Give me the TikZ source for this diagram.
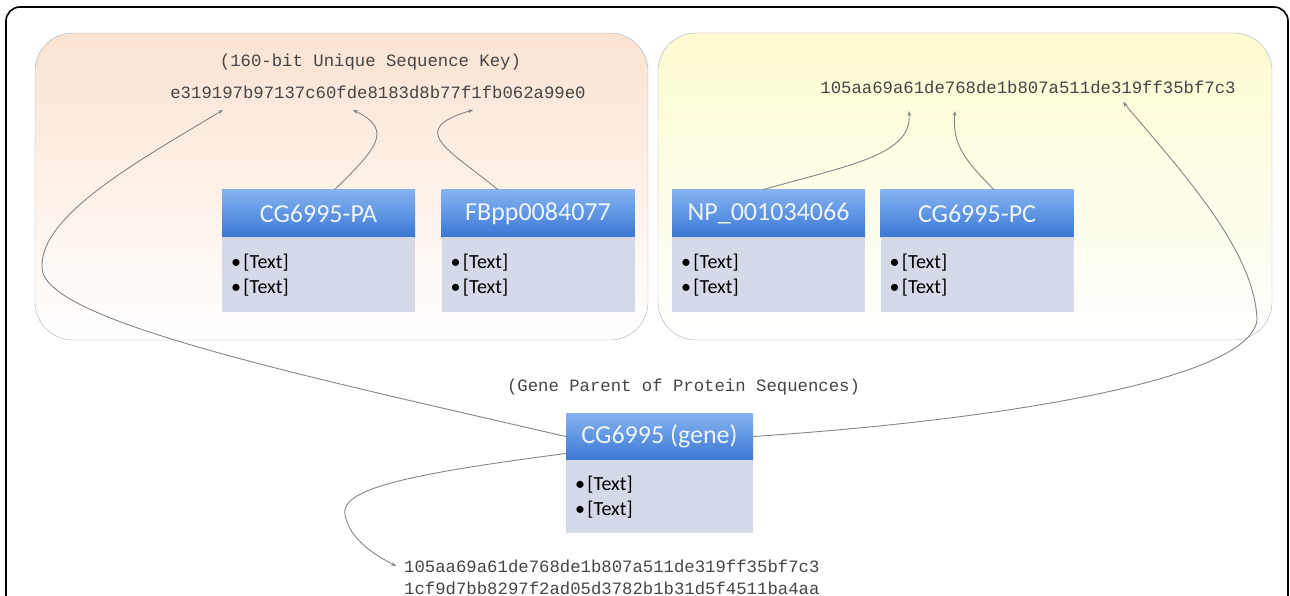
\documentclass[tikz,border=0pt]{standalone}
\usepackage{fontspec}
\setmonofont{Liberation Mono}
\newfontfamily\carlito{Carlito}
\usetikzlibrary{positioning,arrows.meta,calc}
\definecolor{hdtop}{HTML}{84B3F0}
\definecolor{hdbot}{HTML}{3B77D6}
\definecolor{hdtxt}{HTML}{EEF4FC}
\definecolor{bdcol}{HTML}{D4DAE7}
\definecolor{pnlline}{HTML}{A7B1BF}
\definecolor{peach}{HTML}{FBE3D1}
\definecolor{lemon}{HTML}{FDFBD0}
\definecolor{keytxt}{HTML}{454545}
\definecolor{conncol}{HTML}{858585}
\newcommand{\bul}{•\kern2.5pt}
\tikzset{hd/.style={minimum width=193pt, minimum height=47pt, inner sep=0pt,
    top color=hdtop, bottom color=hdbot, text=hdtxt,
    font=\carlito\fontsize{26}{26}\selectfont}}
\tikzset{bd/.style={minimum height=75pt, text width=175pt, inner xsep=9pt, inner ysep=0pt,
    align=left, fill=bdcol, font=\carlito\fontsize{20}{25}\selectfont}}
\tikzset{key/.style={inner sep=0pt, text=keytxt, font=\ttfamily\fontsize{17.3}{20}\selectfont}}
\tikzset{conn/.style={draw=conncol, line width=0.9pt, -{Stealth[length=5pt,width=4pt]}}}

\begin{document}
\begin{tikzpicture}[x=1pt,y=-1pt]
  \useasboundingbox (0,0) rectangle (1290,596);
  % frame and the two panels
  \draw[line width=1.6pt, rounded corners=14pt] (6,7) rectangle (1288,660);
  \draw[draw=pnlline, rounded corners=38pt, top color=peach, bottom color=white] (35,33) rectangle (648,340);
  \draw[draw=pnlline, rounded corners=38pt, top color=lemon, bottom color=white] (658,33) rectangle (1272,340);

  % sequence keys
  \node[key] (keyLabel) at (370.5,62) {(160-bit Unique Sequence Key)};
  \node[key] (keyL) at (378,92) {e319197b97137c60fde8183d8b77f1fb062a99e0};
  \node[key] (keyR) at (1028,87) {105aa69a61de768de1b807a511de319ff35bf7c3};
  \node[key] (geneLabel) at (683.5,387) {(Gene Parent of Protein Sequences)};
  \node[key, anchor=west] (keyG1) at (404,566) {105aa69a61de768de1b807a511de319ff35bf7c3};
  \node[key, anchor=west] (keyG2) at (404,588) {1cf9d7bb8297f2ad05d3782b1b31d5f4511ba4aa};

  % protein boxes
  \node[hd] (hPA) at (318.5,213.5) {CG6995-PA};
  \node[bd, below=0pt of hPA] (bPA) {\bul[Text]\\\bul[Text]};
  \node[hd] (hFB) at (538,213.5) {FBpp0084077};
  \node[bd, below=0pt of hFB] (bFB) {\bul[Text]\\\bul[Text]};
  \node[hd] (hNP) at (768.5,213.5) {NP\_001034066};
  \node[bd, below=0pt of hNP] (bNP) {\bul[Text]\\\bul[Text]};
  \node[hd] (hPC) at (977,213.5) {CG6995-PC};
  \node[bd, below=0pt of hPC] (bPC) {\bul[Text]\\\bul[Text]};

  % gene box
  \node[hd, minimum width=187pt] (hG) at (659.5,436.5) {CG6995 (gene)};
  \node[bd, below=0pt of hG, text width=169pt, minimum height=73pt] (bG) {\bul[Text]\\\bul[Text]};

  % arrow ends
  \coordinate (tipL1) at (223,110);
  \coordinate (tipL2) at (353,110);
  \coordinate (tipL3) at (473,110);
  \coordinate (tipR1) at (909,111);
  \coordinate (tipR2) at (955,111);
  \coordinate (tipR3) at (1123,102);
  \coordinate (tipG) at (396,566);

  % connectors
  \draw[conn] ($(hPA.north)+(16,0)$) .. controls (375,150) and (395,130) .. (tipL2);
  \draw[conn] ($(hFB.north)+(-40,0)$) .. controls (450,150) and (405,130) .. (tipL3);
  \draw[conn] ($(hNP.north)+(-6,0)$) .. controls (850,165) and (912,155) .. (tipR1);
  \draw[conn] ($(hPC.north)+(17,0)$) .. controls (965,160) and (952,145) .. (tipR2);
  \draw[conn] (hG.west) .. controls (300,375) and (40,320) .. (42,267)
    .. controls (40,215) and (140,160) .. (tipL1);
  \draw[conn] (hG.east) .. controls (1000,420) and (1250,380) .. (1257,320)
    .. controls (1255,250) and (1180,170) .. (tipR3);
  \draw[conn] ($(hG.west)+(0,17)$) .. controls (400,475) and (340,490) .. (345,515)
    .. controls (350,540) and (375,555) .. (tipG);
\end{tikzpicture}
\end{document}
